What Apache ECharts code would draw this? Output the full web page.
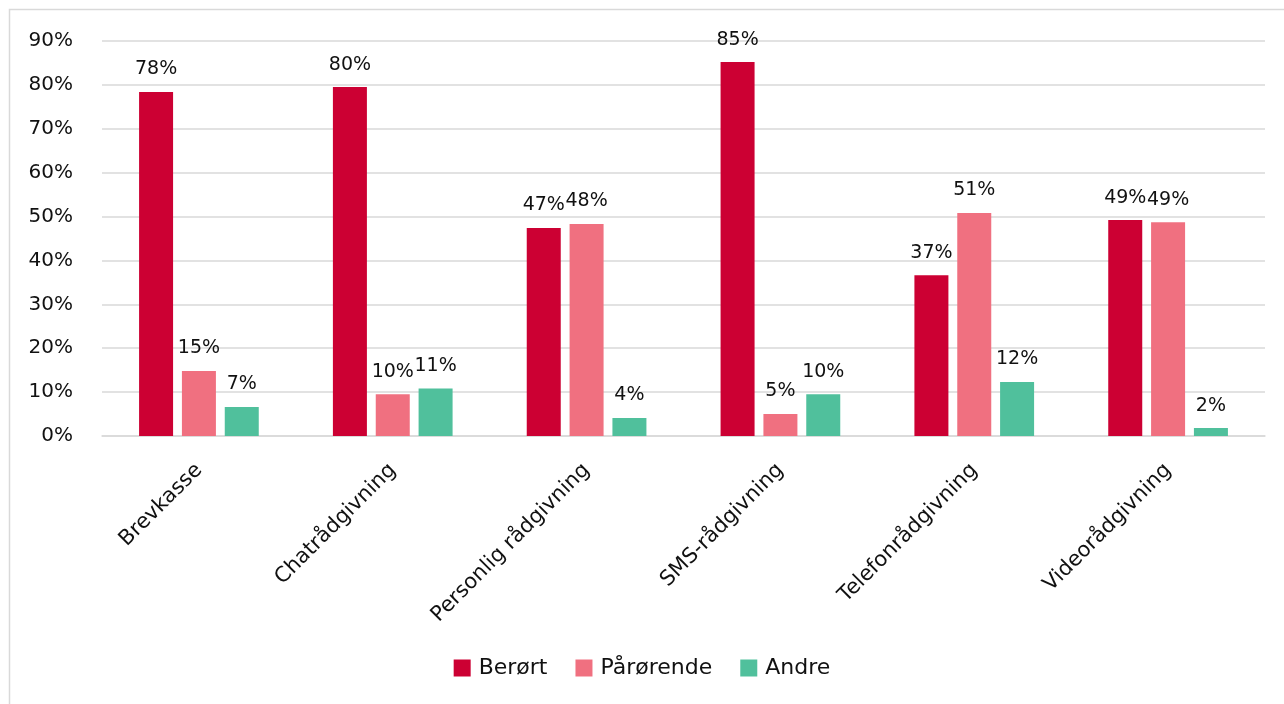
<!DOCTYPE html>
<html><head><meta charset="utf-8">
<script src="https://cdn.jsdelivr.net/npm/echarts@6/dist/echarts.min.js"></script>
<style>html,body{margin:0;padding:0;background:#fff}#c{width:1284px;height:704px}</style>
</head><body><div id="c"></div>
<script>
const categories = ['Brevkasse','Chatrådgivning','Personlig rådgivning','SMS-rådgivning','Telefonrådgivning','Videorådgivning'];
const berort = [78.4, 79.5, 47.4, 85.2, 36.6, 49.2];
const parorende = [14.8, 9.5, 48.3, 5.0, 50.8, 48.7];
const andre = [6.6, 10.8, 4.1, 9.5, 12.3, 1.8];
const seriesNames = ['Berørt','Pårørende','Andre'];
const colors = ['#CC0033','#F07080','#50C09C'];
const FONT = 'DejaVu Sans';
const chart = echarts.init(document.getElementById('c'));
const mk = (name, data, color) => ({
  name, type:'bar', data, barWidth:34, barGap:'26%',
  itemStyle:{color},
  label:{show:true, position:'top', distance:13, color:'#111', fontSize:19, fontFamily:FONT,
    formatter:p=>Math.round(p.value)+'%'}
});
chart.setOption({
  animation:false,
  textStyle:{fontFamily:FONT},
  graphic:[{type:'rect', shape:{x:9.5,y:9.5,width:1290,height:710}, style:{fill:'none',stroke:'#d9d9d9',lineWidth:1.5}}],
  grid:{left:102,right:19,top:41,bottom:268,containLabel:false},
  legend:{top:652,left:'center',itemWidth:17,itemHeight:17,itemGap:28,icon:'rect',
    textStyle:{fontSize:22,color:'#111',fontFamily:FONT,padding:[0,0,0,3]},data:seriesNames},
  xAxis:{type:'category',data:categories,
    axisLine:{lineStyle:{color:'#d9d9d9',width:1.5}},axisTick:{show:false},
    axisLabel:{rotate:45,fontSize:21,color:'#111',margin:31,fontFamily:FONT,interval:0}},
  yAxis:{type:'value',min:0,max:90,interval:10,
    axisLabel:{formatter:'{value}%',fontSize:20,color:'#111',margin:29,fontFamily:FONT},
    splitLine:{lineStyle:{color:'#d9d9d9',width:1.5}},axisLine:{show:false},axisTick:{show:false}},
  series:[mk(seriesNames[0],berort,colors[0]),mk(seriesNames[1],parorende,colors[1]),mk(seriesNames[2],andre,colors[2])]
});
</script></body></html>
